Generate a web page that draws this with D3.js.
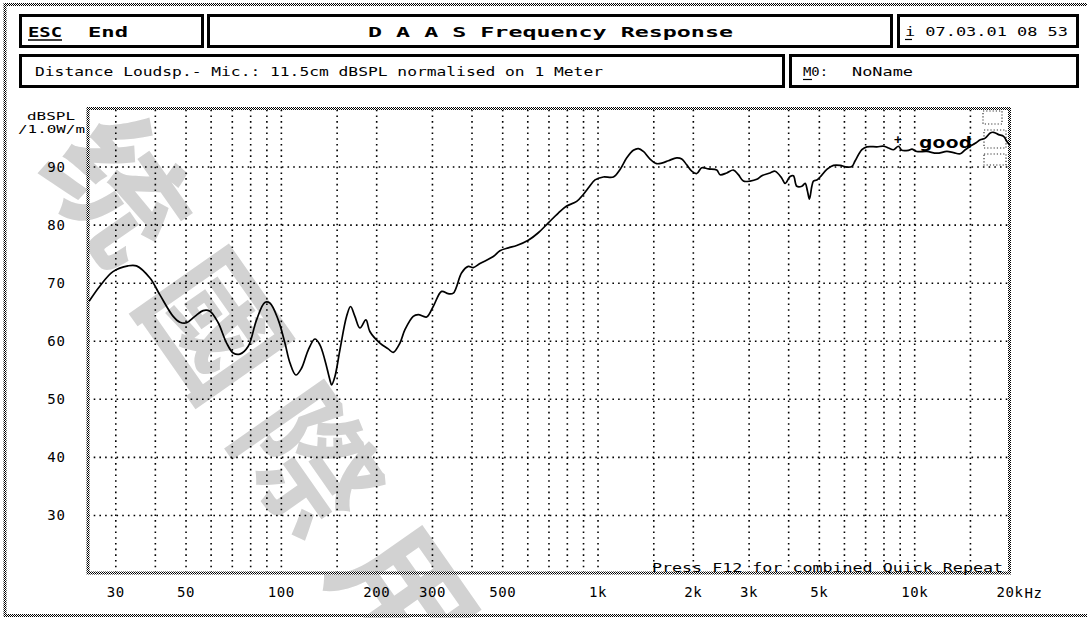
<!DOCTYPE html>
<html><head><meta charset="utf-8">
<script src="https://cdn.jsdelivr.net/npm/d3@7"></script>
<style>
html,body{margin:0;padding:0;background:#fff;overflow:hidden;}
svg{display:block;}
text{font-family:"DejaVu Sans Mono","Liberation Mono",monospace;fill:#000;}
</style></head><body>
<svg id="c" width="1087" height="618"></svg>
<script>
// ---- data ----
const freqs = [24.8, 26.8, 29.5, 32.9, 35.0, 38.6, 41.5, 45.7, 48.0, 50.4,
  53.5, 56.8, 59.7, 63.4, 67.4, 70.7, 74.2, 78.8, 83.8, 89.0,
  92.3, 98.1, 103, 106.8, 111.5, 116.3, 122, 128.1, 132.8, 137.7,
  142.8, 144.6, 148.1, 153.6, 161.3, 166, 171.3, 177.7, 185.6, 191,
  205.5, 218.3, 226.4, 237.7, 246.5, 261.8, 271.5, 288.6, 302.8, 321.9,
  337.8, 350.4, 372.4, 390.7, 405.2, 425.4, 468.7, 491.9, 522.8, 555.6,
  604.4, 650.1, 699.2, 752, 799, 859.5, 901.7, 935, 982, 1043,
  1122, 1178, 1237, 1298, 1346, 1396, 1465, 1538, 1595, 1674,
  1779, 1845, 1913, 1984, 2058, 2134, 2239, 2380, 2438, 2559,
  2686, 2785, 2888, 3032, 3184, 3302, 3508, 3637, 3819, 3912,
  4057, 4155, 4260, 4418, 4525, 4602, 4669, 4751, 4807, 4927,
  5047, 5299, 5559, 5837, 6129, 6356, 6511, 6837, 7090, 7624,
  7999, 8295, 8602, 8921, 9143, 9594, 9835, 10197, 10968, 11795,
  12687, 13311, 13980, 14497, 15034, 15590, 16167, 16765, 17386, 17811,
  18470, 19154, 19633, 20000];
const levels = [66.8, 69.4, 71.9, 72.9, 72.9, 70.8, 67.9, 64.2, 63.2, 63.1,
  64.2, 65.2, 65.1, 63.1, 59.6, 57.9, 57.7, 59.0, 63.6, 66.6,
  66.5, 63.6, 59.6, 56.2, 54.1, 55.3, 58.4, 60.3, 59.3, 56.7,
  53.3, 52.4, 53.8, 58.4, 64.2, 65.9, 64.2, 62.2, 63.6, 61.6,
  59.6, 58.6, 58.0, 59.6, 61.9, 64.2, 64.5, 64.1, 65.9, 68.5,
  68.1, 68.2, 71.7, 72.8, 72.6, 73.3, 74.5, 75.5, 76.0, 76.4,
  77.3, 78.6, 80.3, 82.0, 83.2, 84.0, 85.2, 86.3, 87.7, 88.2,
  88.2, 89.5, 91.5, 92.8, 93.1, 92.6, 91.3, 90.5, 90.6, 91.0,
  91.5, 91.3, 90.3, 89.2, 88.8, 89.8, 89.6, 89.4, 88.6, 88.9,
  89.4, 88.6, 87.5, 87.5, 87.8, 88.4, 88.9, 89.2, 88.0, 87.1,
  88.3, 88.4, 86.6, 86.6, 87.1, 85.8, 84.4, 86.6, 87.5, 87.7,
  88.2, 89.5, 90.2, 90.2, 89.9, 90.0, 91.0, 92.9, 93.4, 93.4,
  93.5, 93.2, 92.9, 93.5, 92.8, 92.8, 93.0, 92.6, 92.6, 92.3,
  92.6, 92.4, 92.2, 92.9, 93.5, 94.0, 94.6, 94.9, 95.8, 95.9,
  95.5, 95.2, 94.3, 93.7];
const yTicks = [30, 40, 50, 60, 70, 80, 90];
const xGridValues = [30, 40, 50, 60, 70, 80, 90, 100, 150, 200, 300, 400, 500, 600, 700, 800, 900,
  1000, 1500, 2000, 3000, 4000, 5000, 6000, 7000, 8000, 9000, 10000, 15000];
const xTickValues = [30, 50, 100, 200, 300, 500, 1000, 2000, 3000, 5000, 10000, 20000];
const xTickLabels = ["30", "50", "100", "200", "300", "500", "1k", "2k", "3k", "5k", "10k", "20k"];
const xUnit = "Hz";
const yUnitLines = ["dBSPL", "/1.0W/m"];
const titleText = "D A A S  Frequency Response";
const dateText = "i 07.03.01 08 53";
const infoText = "Distance Loudsp.- Mic.: 11.5cm dBSPL normalised on 1 Meter";
const moLabel = "M0:";
const moName = "NoName";
const footText = "Press F12 for combined Quick Repeat";
const markText = "good";
const watermarkChars = ["统", "國", "際", "用"];

// ---- layout ----
const svg = d3.select("#c");
const P = {l: 88, r: 1009.5, t: 108.5, b: 573};
const x = d3.scaleLog().domain([24.6, 20000]).range([P.l, P.r]);
const y = d3.scaleLinear().domain([20, 100]).range([P.b, P.t]);

const defs = svg.append("defs");
const pat = defs.append("pattern").attr("id", "dith").attr("width", 2).attr("height", 2)
  .attr("patternUnits", "userSpaceOnUse");
pat.append("rect").attr("width", 2).attr("height", 2).attr("fill", "#fff");
pat.append("rect").attr("width", 1).attr("height", 1).attr("fill", "#000");
pat.append("rect").attr("x", 1).attr("y", 1).attr("width", 1).attr("height", 1).attr("fill", "#000");

svg.append("rect").attr("width", 1087).attr("height", 618).attr("fill", "#fff");

// watermark (drawn first, under everything)
const wmStep = 166, wmAng = 55 * Math.PI / 180;
svg.selectAll("text.wm").data(watermarkChars).join("text").attr("class", "wm")
  .attr("transform", (d, i) => {
    const cx = 126 + i * wmStep * Math.cos(wmAng), cy = 184 + i * wmStep * Math.sin(wmAng);
    return `translate(${cx},${cy}) rotate(55)`;
  })
  .attr("text-anchor", "middle").attr("dominant-baseline", "central")
  .style("font-family", '"Noto Sans CJK SC","Noto Sans CJK TC",sans-serif')
  .attr("font-size", 136).attr("font-weight", "bold").style("fill", "#d2d2d2")
  .text(d => d);

// grid
const gridX = svg.append("g").attr("transform", `translate(0,${P.b})`)
  .call(d3.axisBottom(x).tickValues(xGridValues).tickSize(-(P.b - P.t)).tickFormat(""));
gridX.select(".domain").remove();
gridX.selectAll("line").attr("stroke", "#000").attr("stroke-width", 1.6).attr("stroke-dasharray", "1.6 4.1");

const gridY = svg.append("g").attr("transform", `translate(${P.l},0)`)
  .call(d3.axisLeft(y).tickValues(yTicks).tickSize(-(P.r - P.l)).tickFormat(""));
gridY.select(".domain").remove();
gridY.selectAll("line").attr("stroke", "#000").attr("stroke-width", 1.6).attr("stroke-dasharray", "1.6 4.1");

// outer frame
svg.append("rect").attr("x", 5).attr("y", 4.5).attr("width", 1090).attr("height", 611)
  .attr("fill", "none").attr("stroke", "url(#dith)").attr("stroke-width", 3);

// header boxes
const boxes = [
  [19, 14, 185, 34], [207, 14, 686, 34], [897, 14, 182, 34],
  [19, 54, 766, 34], [789, 54, 290, 34]
];
svg.selectAll("rect.box").data(boxes).join("rect").attr("class", "box")
  .attr("x", d => d[0] + 1.5).attr("y", d => d[1] + 1.5)
  .attr("width", d => d[2] - 3).attr("height", d => d[3] - 3)
  .attr("fill", "#fff").attr("stroke", "#000").attr("stroke-width", 3);

function txt(s, xx, yy, len, opts = {}) {
  const t = svg.append("text").attr("x", xx).attr("y", yy).text(s)
    .attr("font-size", opts.size || 13)
    .attr("font-weight", opts.bold ? "bold" : "normal");
  if (len) t.attr("textLength", len).attr("lengthAdjust", "spacingAndGlyphs");
  if (opts.anchor) t.attr("text-anchor", opts.anchor);
  return t;
}
txt("ESC", 28, 37, 34, {bold: true, size: 14});
svg.append("line").attr("x1", 28).attr("x2", 62).attr("y1", 40).attr("y2", 40).attr("stroke", "#000").attr("stroke-width", 1.5);
txt("End", 88, 37, 40, {bold: true, size: 14});
txt(titleText, 368, 37, 365, {bold: true, size: 14});
txt(dateText, 905, 36, 163, {size: 13});
svg.append("line").attr("x1", 905).attr("x2", 912).attr("y1", 39.5).attr("y2", 39.5).attr("stroke", "#000").attr("stroke-width", 1.2);
txt(infoText, 35, 76, 568, {size: 13});
txt(moLabel, 803, 76, 25, {size: 13});
svg.append("line").attr("x1", 803).attr("x2", 812).attr("y1", 79.5).attr("y2", 79.5).attr("stroke", "#000").attr("stroke-width", 1.2);
txt(moName, 852, 76, 61, {size: 13});

// plot border
svg.append("rect").attr("x", P.l).attr("y", P.t).attr("width", P.r - P.l).attr("height", P.b - P.t)
  .attr("fill", "none").attr("stroke", "url(#dith)").attr("stroke-width", 3);

// small dotted boxes top right
const mini = [[983, 111, 19, 13], [984, 130, 22, 18], [984, 154, 22, 11]];
svg.selectAll("rect.mini").data(mini).join("rect").attr("class", "mini")
  .attr("x", d => d[0]).attr("y", d => d[1]).attr("width", d => d[2]).attr("height", d => d[3])
  .attr("fill", "none").attr("stroke", "#333").attr("stroke-width", 1.2).attr("stroke-dasharray", "1.2 2");

// curve
const pts = freqs.map((f, i) => [f, levels[i]]);
const line = d3.line().x(d => x(d[0])).y(d => y(d[1])).curve(d3.curveCatmullRom.alpha(0.5));
svg.append("path").attr("d", line(pts)).attr("fill", "none").attr("stroke", "#000").attr("stroke-width", 1.7)
  .attr("stroke-linejoin", "round");

// axis labels
const ax = svg.append("g").attr("transform", `translate(0,${P.b})`)
  .call(d3.axisBottom(x).tickValues(xTickValues).tickSize(0).tickPadding(14)
    .tickFormat((d, i) => xTickLabels[i]));
ax.select(".domain").remove();
ax.selectAll("text").attr("font-size", 14).style("font-family", '"DejaVu Sans Mono",monospace')
  .attr("letter-spacing", 0.6).attr("fill", "#000");
svg.append("text").attr("x", x(20000) + 15).attr("y", P.b + 14 + 11).attr("font-size", 14)
  .attr("letter-spacing", 0.6).text(xUnit);

const ay = svg.append("g").attr("transform", `translate(66,0)`)
  .call(d3.axisLeft(y).tickValues(yTicks).tickSize(0).tickPadding(0));
ay.select(".domain").remove();
ay.selectAll("text").attr("font-size", 14).style("font-family", '"DejaVu Sans Mono",monospace')
  .attr("letter-spacing", 1).attr("fill", "#000");

txt(yUnitLines[0], 27, 120, 48, {size: 11});
txt(yUnitLines[1], 18, 133, 67, {size: 11});

// footer note
txt(footText, 652, 572, 351, {size: 13});

// "good" marker
txt("+", 898, 144, null, {bold: true, size: 13, anchor: "middle"});
txt(markText, 919, 148, 53, {bold: true, size: 16});
</script>
</body></html>
